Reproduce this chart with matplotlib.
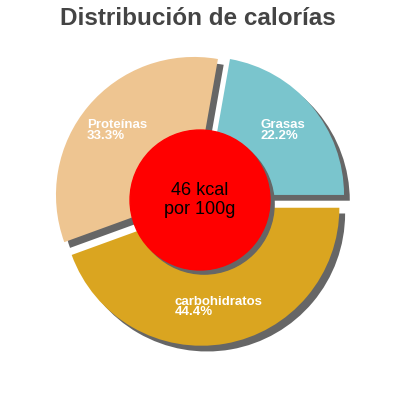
import matplotlib
matplotlib.use("Agg")
import matplotlib.pyplot as plt
import numpy as np

plt.rcParams['font.family'] = ['Liberation Sans', 'DejaVu Sans']

# data
labels = ["Grasas", "Proteínas", "carbohidratos"]
values = [22.2, 33.3, 44.4]
colors = ["#7AC5CD", "#EEC591", "#DAA520"]
kcal = 46

fig = plt.figure(figsize=(4, 4), dpi=100)
ax = fig.add_axes([0, 0, 1, 1])

# pie: starts at 3 o'clock, counterclockwise, each slice pushed out a bit
shadow = {'ox': 0.03, 'oy': -0.03, 'facecolor': '#666666',
          'edgecolor': '#666666', 'alpha': 1.0}
wedges, _ = ax.pie(values, colors=colors, startangle=0, counterclock=True,
                   explode=[0.057] * len(values), radius=1.0,
                   shadow=shadow, wedgeprops={'linewidth': 0})

for w, lab, v in zip(wedges, labels, values):
    mid = np.deg2rad((w.theta1 + w.theta2) / 2)
    cx, cy = w.center
    r = 0.73
    ax.text(cx + r * np.cos(mid), cy + r * np.sin(mid), "%s\n%.1f%%" % (lab, v),
            ha='center', va='center', multialignment='left', color='white',
            fontsize=9.5, fontweight='bold', linespacing=0.85)

# red centre disc with its own shadow
ax.add_patch(plt.Circle((0.03, -0.03), 0.507, color='#666666', zorder=3))
ax.add_patch(plt.Circle((0, 0), 0.507, color='#FF0000', zorder=4))
ax.text(0, 0, "%d kcal\npor 100g" % kcal, ha='center', va='center',
        fontsize=13, color='black', zorder=5, linespacing=1.1)

lim = 200 / 138.0
ax.set_xlim(-lim, lim)
ax.set_ylim(-lim, lim)
ax.set_aspect('equal')
ax.axis('off')

fig.text(0.495, 0.953, "Distribución de calorías", ha='center', va='center',
         fontsize=17.5, fontweight='bold', color='#444444')

fig.savefig("out.png", dpi=100)
